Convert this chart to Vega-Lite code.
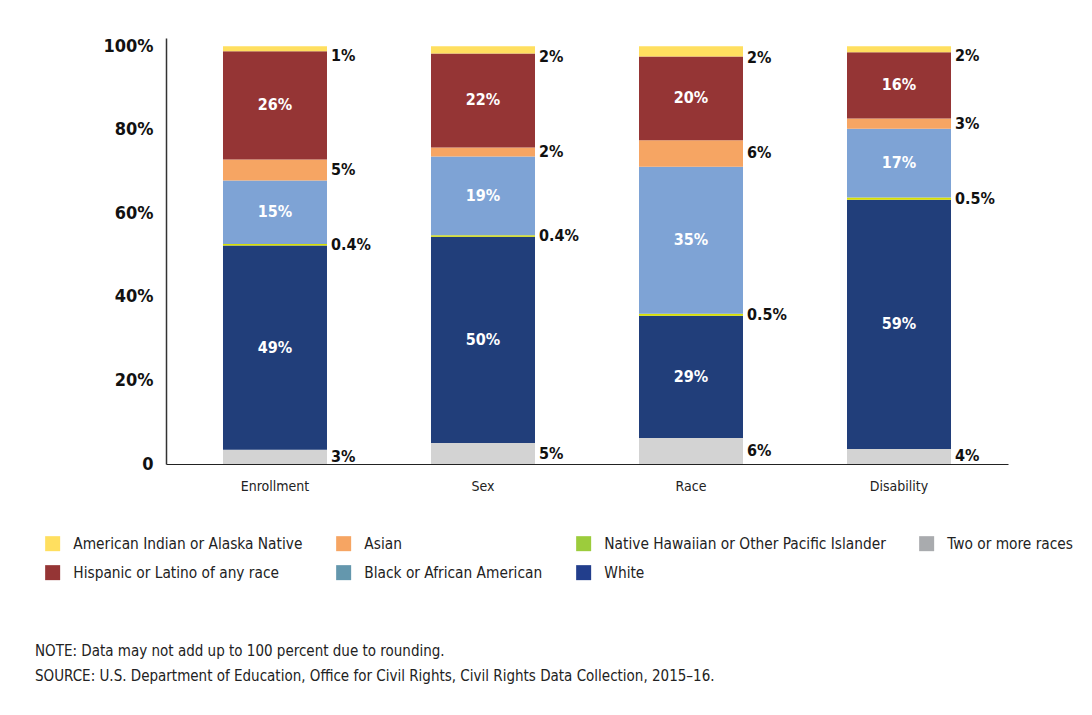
{
  "$schema": "https://vega.github.io/schema/vega-lite/v6.json",
  "width": 842,
  "height": 426,
  "autosize": {"type": "none"},
  "padding": {"left": 166, "top": 38, "right": 84, "bottom": 251},
  "background": "white",
  "config": {
    "view": {"stroke": null},
    "font": "DejaVu Sans Condensed, Roboto",
    "text": {"font": "DejaVu Sans Condensed, Roboto"}
  },
  "title": {
    "text": ["NOTE: Data may not add up to 100 percent due to rounding.", "SOURCE: U.S. Department of Education, Office for Civil Rights, Civil Rights Data Collection, 2015–16."],
    "orient": "bottom",
    "anchor": "start",
    "frame": "group",
    "font": "DejaVu Sans Condensed, Roboto",
    "fontSize": 15,
    "fontWeight": "normal",
    "color": "#222222",
    "lineHeight": 25,
    "dx": -131,
    "dy": 59
  },
  "data": {
    "values": [
      {"group": "Enrollment", "race": "Two or more races", "value": 3.4, "label": "3%"},
      {"group": "Enrollment", "race": "White", "value": 48.9, "label": "49%"},
      {"group": "Enrollment", "race": "Native Hawaiian or Other Pacific Islander", "value": 0.4, "label": "0.4%"},
      {"group": "Enrollment", "race": "Black or African American", "value": 15.2, "label": "15%"},
      {"group": "Enrollment", "race": "Asian", "value": 5.0, "label": "5%"},
      {"group": "Enrollment", "race": "Hispanic or Latino of any race", "value": 25.9, "label": "26%"},
      {"group": "Enrollment", "race": "American Indian or Alaska Native", "value": 1.2, "label": "1%"},
      {"group": "Sex", "race": "Two or more races", "value": 5.0, "label": "5%"},
      {"group": "Sex", "race": "White", "value": 49.4, "label": "50%"},
      {"group": "Sex", "race": "Native Hawaiian or Other Pacific Islander", "value": 0.4, "label": "0.4%"},
      {"group": "Sex", "race": "Black or African American", "value": 18.8, "label": "19%"},
      {"group": "Sex", "race": "Asian", "value": 2.2, "label": "2%"},
      {"group": "Sex", "race": "Hispanic or Latino of any race", "value": 22.5, "label": "22%"},
      {"group": "Sex", "race": "American Indian or Alaska Native", "value": 1.7, "label": "2%"},
      {"group": "Race", "race": "Two or more races", "value": 6.2, "label": "6%"},
      {"group": "Race", "race": "White", "value": 29.3, "label": "29%"},
      {"group": "Race", "race": "Native Hawaiian or Other Pacific Islander", "value": 0.5, "label": "0.5%"},
      {"group": "Race", "race": "Black or African American", "value": 35.2, "label": "35%"},
      {"group": "Race", "race": "Asian", "value": 6.3, "label": "6%"},
      {"group": "Race", "race": "Hispanic or Latino of any race", "value": 20.1, "label": "20%"},
      {"group": "Race", "race": "American Indian or Alaska Native", "value": 2.4, "label": "2%"},
      {"group": "Disability", "race": "Two or more races", "value": 3.6, "label": "4%"},
      {"group": "Disability", "race": "White", "value": 59.7, "label": "59%"},
      {"group": "Disability", "race": "Native Hawaiian or Other Pacific Islander", "value": 0.5, "label": "0.5%"},
      {"group": "Disability", "race": "Black or African American", "value": 16.5, "label": "17%"},
      {"group": "Disability", "race": "Asian", "value": 2.4, "label": "3%"},
      {"group": "Disability", "race": "Hispanic or Latino of any race", "value": 15.9, "label": "16%"},
      {"group": "Disability", "race": "American Indian or Alaska Native", "value": 1.4, "label": "2%"}
    ]
  },
  "transform": [
    {"calculate": "indexof(['Two or more races','White','Native Hawaiian or Other Pacific Islander','Black or African American','Asian','Hispanic or Latino of any race','American Indian or Alaska Native'], datum.race)", "as": "ord"},
    {"stack": "value", "groupby": ["group"], "sort": [{"field": "ord", "order": "ascending"}], "as": ["y0", "y1"]},
    {"calculate": "(datum.y0 + datum.y1) / 2", "as": "mid"}
  ],
  "encoding": {
    "x": {
      "field": "group",
      "type": "nominal",
      "sort": ["Enrollment", "Sex", "Race", "Disability"],
      "scale": {"paddingInner": 0.5, "paddingOuter": 0.274},
      "axis": {
        "title": null,
        "labelAngle": 0,
        "ticks": false,
        "domainColor": "#222222",
        "domainWidth": 1.2,
        "labelFont": "DejaVu Sans Condensed, Roboto",
        "labelFontSize": 14,
        "labelColor": "#222222",
        "labelPadding": 15
      }
    }
  },
  "layer": [
    {
      "mark": {"type": "bar"},
      "encoding": {
        "y": {
          "field": "y0",
          "type": "quantitative",
          "scale": {"domain": [0, 102], "nice": false},
          "axis": {
            "title": null,
            "values": [0, 20, 40, 60, 80, 100],
            "labelExpr": "datum.value == 0 ? '0' : datum.value + '%'",
            "ticks": false,
            "grid": false,
            "domainColor": "#333333",
            "domainWidth": 1.5,
            "labelFont": "DejaVu Sans Condensed, Roboto",
            "labelFontSize": 18,
            "labelFontWeight": "bold",
            "labelColor": "#111111",
            "labelPadding": 13
          }
        },
        "y2": {"field": "y1"},
        "color": {
          "field": "race",
          "type": "nominal",
          "scale": {
            "domain": ["American Indian or Alaska Native", "Asian", "Native Hawaiian or Other Pacific Islander", "Two or more races", "Hispanic or Latino of any race", "Black or African American", "White"],
            "range": ["#ffdf5f", "#f6a563", "#d8e000", "#d3d3d3", "#953535", "#7ea3d5", "#213e7a"]
          },
          "legend": null
        }
      }
    },
    {
      "mark": {"type": "square", "opacity": 0, "size": 1},
      "encoding": {
        "y": {"field": "mid", "type": "quantitative"},
        "color": {
          "field": "race",
          "type": "nominal",
          "scale": {
            "domain": ["American Indian or Alaska Native", "Asian", "Native Hawaiian or Other Pacific Islander", "Two or more races", "Hispanic or Latino of any race", "Black or African American", "White"],
            "range": ["#ffdf5f", "#f6a563", "#9ccc3c", "#a9abae", "#953535", "#6497ad", "#223e8c"]
          },
          "legend": {
            "title": null,
            "orient": "none",
            "legendX": -121,
            "legendY": 498,
            "direction": "horizontal",
            "columns": 4,
            "padding": 0,
            "symbolType": "square",
            "symbolSize": 225,
            "symbolOpacity": 1,
            "symbolStrokeWidth": 0,
            "labelFont": "DejaVu Sans Condensed, Roboto",
            "labelFontSize": 15.3,
            "labelColor": "#222222",
            "labelOffset": 13,
            "labelLimit": 400,
            "columnPadding": 33,
            "rowPadding": 13
          }
        }
      }
    },
    {
      "transform": [{"filter": "indexof(['White','Black or African American','Hispanic or Latino of any race'], datum.race) >= 0"}],
      "mark": {"type": "text", "fontSize": 16, "fontWeight": "bold", "color": "white"},
      "encoding": {
        "y": {"field": "mid", "type": "quantitative"},
        "text": {"field": "label"}
      }
    },
    {
      "transform": [{"filter": "indexof(['Two or more races','Native Hawaiian or Other Pacific Islander','Asian'], datum.race) >= 0"}],
      "mark": {"type": "text", "fontSize": 16, "fontWeight": "bold", "color": "#111111", "align": "left", "dx": 4},
      "encoding": {
        "x": {"field": "group", "type": "nominal", "sort": ["Enrollment", "Sex", "Race", "Disability"], "bandPosition": 1},
        "y": {"field": "mid", "type": "quantitative"},
        "text": {"field": "label"}
      }
    },
    {
      "transform": [{"filter": "datum.race == 'American Indian or Alaska Native'"}],
      "mark": {"type": "text", "fontSize": 16, "fontWeight": "bold", "color": "#111111", "align": "left", "dx": 4, "dy": 7},
      "encoding": {
        "x": {"field": "group", "type": "nominal", "sort": ["Enrollment", "Sex", "Race", "Disability"], "bandPosition": 1},
        "y": {"field": "mid", "type": "quantitative"},
        "text": {"field": "label"}
      }
    }
  ],
  "resolve": {"scale": {"color": "independent"}}
}
